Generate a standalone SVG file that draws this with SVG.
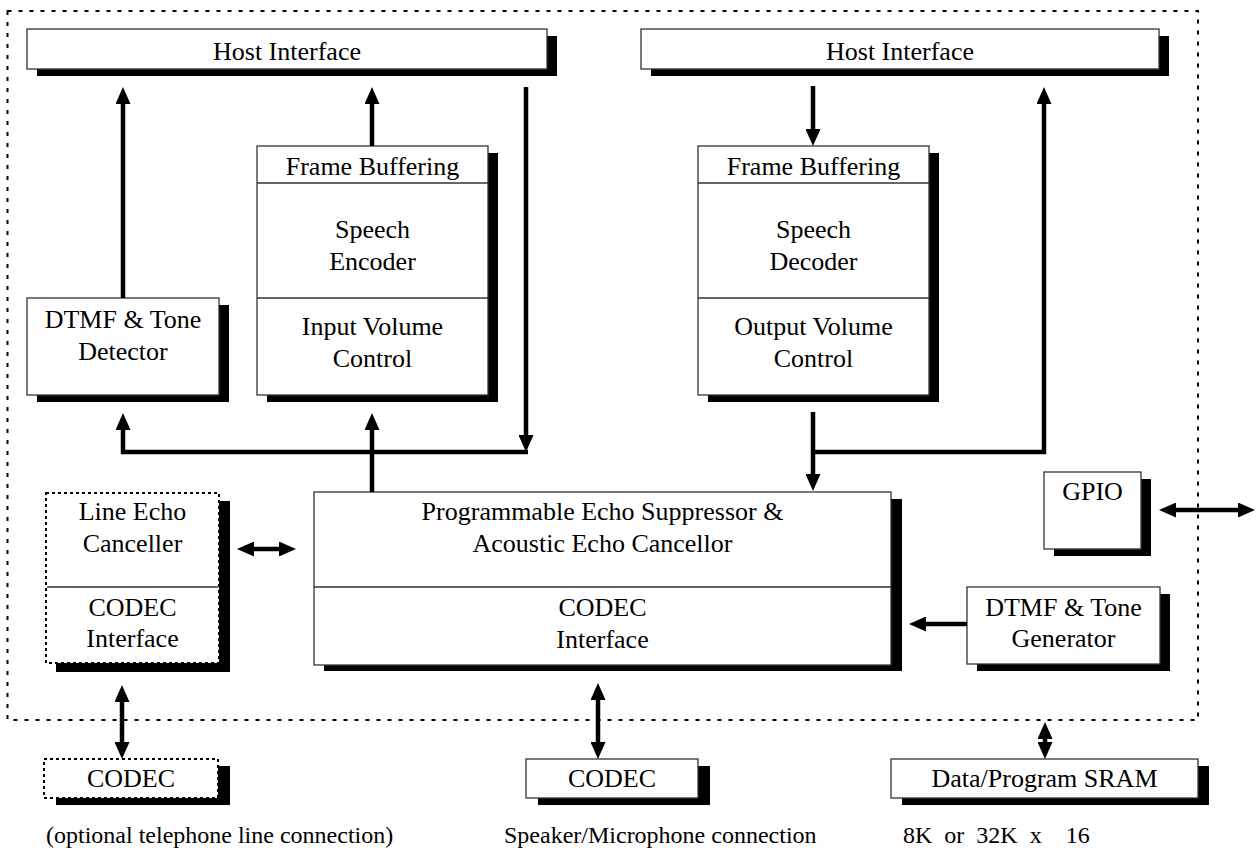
<svg xmlns="http://www.w3.org/2000/svg" width="1257" height="849" viewBox="0 0 1257 849">
  <defs>
    <marker id="ah" viewBox="0 0 17 15" markerWidth="17" markerHeight="15" markerUnits="userSpaceOnUse" refX="3" refY="7.5" orient="auto-start-reverse">
      <path d="M0,0 L17,7.5 L0,15 z" fill="#000"/>
    </marker>
    <style>
      .box { fill: #fff; stroke: #333; stroke-width: 1.3; }
      .dbox { fill: #fff; stroke: #000; stroke-width: 2; stroke-dasharray: 3 3; }
      .div { stroke: #333; stroke-width: 1.3; }
      .sh { fill: #000; }
      .t { font-family: "Liberation Serif", "Times New Roman", serif; font-size: 26px; fill: #000; text-anchor: middle; }
      .fn { font-family: "Liberation Serif", "Times New Roman", serif; font-size: 24px; fill: #000; white-space: pre; }
      .c { fill: none; stroke: #000; stroke-width: 4.5; }
      .frame { fill: none; stroke: #000; stroke-width: 2; stroke-dasharray: 4 7; }
    </style>
  </defs>
  <rect width="1257" height="849" fill="#fff"/>

  <!-- chip boundary -->
  <rect class="frame" x="7.5" y="11" width="1190.5" height="709"/>

  <!-- host interfaces -->
  <g id="host-if-left">
    <rect class="sh" x="37" y="36" width="520" height="40"/>
    <rect class="box" x="27" y="29" width="520" height="40"/>
    <text class="t" x="287" y="60">Host Interface</text>
  </g>
  <g id="host-if-right">
    <rect class="sh" x="651" y="36" width="518" height="40"/>
    <rect class="box" x="641" y="29" width="518" height="40"/>
    <text class="t" x="900" y="60">Host Interface</text>
  </g>

  <!-- encoder path -->
  <g id="encoder">
    <rect class="sh" x="267" y="153" width="231" height="249"/>
    <rect class="box" x="257" y="146" width="231" height="249"/>
    <line class="div" x1="257" y1="183" x2="488" y2="183"/>
    <line class="div" x1="257" y1="298" x2="488" y2="298"/>
    <text class="t" x="372.5" y="175">Frame Buffering</text>
    <text class="t" x="372.5" y="238">Speech</text>
    <text class="t" x="372.5" y="270">Encoder</text>
    <text class="t" x="372.5" y="335">Input Volume</text>
    <text class="t" x="372.5" y="367">Control</text>
  </g>

  <!-- decoder path -->
  <g id="decoder">
    <rect class="sh" x="708" y="153" width="231" height="249"/>
    <rect class="box" x="698" y="146" width="231" height="249"/>
    <line class="div" x1="698" y1="183" x2="929" y2="183"/>
    <line class="div" x1="698" y1="298" x2="929" y2="298"/>
    <text class="t" x="813.5" y="175">Frame Buffering</text>
    <text class="t" x="813.5" y="238">Speech</text>
    <text class="t" x="813.5" y="270">Decoder</text>
    <text class="t" x="813.5" y="335">Output Volume</text>
    <text class="t" x="813.5" y="367">Control</text>
  </g>

  <g id="tone-detector">
    <rect class="sh" x="37" y="305" width="192" height="97"/>
    <rect class="box" x="27" y="298" width="192" height="97"/>
    <text class="t" x="123" y="328">DTMF &amp; Tone</text>
    <text class="t" x="123" y="360">Detector</text>
  </g>

  <g id="line-echo">
    <rect class="sh" x="56" y="501" width="174" height="171"/>
    <rect class="dbox" x="46" y="493" width="173" height="170"/>
    <line class="div" x1="47" y1="587" x2="218" y2="587"/>
    <text class="t" x="132.5" y="520">Line Echo</text>
    <text class="t" x="132.5" y="552">Canceller</text>
    <text class="t" x="132.5" y="616">CODEC</text>
    <text class="t" x="132.5" y="647">Interface</text>
  </g>

  <g id="echo-suppressor">
    <rect class="sh" x="324" y="499" width="578" height="172"/>
    <rect class="box" x="314" y="492" width="577" height="173"/>
    <line class="div" x1="314" y1="587" x2="891" y2="587"/>
    <text class="t" x="602.5" y="520">Programmable Echo Suppressor &amp;</text>
    <text class="t" x="602.5" y="552">Acoustic Echo Cancellor</text>
    <text class="t" x="602.5" y="616">CODEC</text>
    <text class="t" x="602.5" y="648">Interface</text>
  </g>

  <g id="gpio">
    <rect class="sh" x="1054" y="479" width="97" height="77"/>
    <rect class="box" x="1044" y="472" width="97" height="77"/>
    <text class="t" x="1092.5" y="500">GPIO</text>
  </g>

  <g id="tone-generator">
    <rect class="sh" x="977" y="594" width="193" height="77"/>
    <rect class="box" x="967" y="587" width="193" height="77"/>
    <text class="t" x="1063.5" y="616">DTMF &amp; Tone</text>
    <text class="t" x="1063.5" y="647">Generator</text>
  </g>

  <!-- external parts -->
  <g id="codec-line">
    <rect class="sh" x="56" y="766" width="174" height="39"/>
    <rect class="dbox" x="44" y="759" width="174" height="39"/>
    <text class="t" x="131" y="787">CODEC</text>
  </g>
  <g id="codec-audio">
    <rect class="sh" x="538" y="766" width="172" height="39"/>
    <rect class="box" x="526" y="759" width="172" height="39"/>
    <text class="t" x="612" y="787">CODEC</text>
  </g>
  <g id="sram">
    <rect class="sh" x="902" y="766" width="307" height="39"/>
    <rect class="box" x="891" y="759" width="307" height="39"/>
    <text class="t" x="1044.5" y="787">Data/Program SRAM</text>
  </g>

  <g id="notes">
    <text class="fn" x="46" y="843">(optional telephone line connection)</text>
    <text class="fn" x="504" y="843">Speaker/Microphone connection</text>
    <text class="fn" x="903" y="843" word-spacing="6">8K or 32K x  16</text>
  </g>

  <!-- data paths -->
  <g id="connectors">
    <line class="c" x1="123" y1="298" x2="123" y2="101" marker-end="url(#ah)"/>
    <line class="c" x1="372" y1="146" x2="372" y2="101" marker-end="url(#ah)"/>
    <line class="c" x1="526" y1="87" x2="526" y2="438" marker-end="url(#ah)"/>
    <line class="c" x1="121" y1="452" x2="528" y2="452"/>
    <line class="c" x1="123" y1="454" x2="123" y2="427" marker-end="url(#ah)"/>
    <line class="c" x1="372" y1="492" x2="372" y2="427" marker-end="url(#ah)"/>
    <line class="c" x1="813" y1="86" x2="813" y2="132" marker-end="url(#ah)"/>
    <line class="c" x1="813" y1="412" x2="813" y2="477" marker-end="url(#ah)"/>
    <polyline class="c" points="813,452 1044,452 1044,101" marker-end="url(#ah)"/>
    <line class="c" x1="251" y1="549" x2="282" y2="549" marker-start="url(#ah)" marker-end="url(#ah)"/>
    <line class="c" x1="1173" y1="510" x2="1241" y2="510" marker-start="url(#ah)" marker-end="url(#ah)"/>
    <line class="c" x1="967" y1="624" x2="923" y2="624" marker-end="url(#ah)"/>
    <line class="c" x1="122" y1="699" x2="122" y2="745" marker-start="url(#ah)" marker-end="url(#ah)"/>
    <line class="c" x1="598" y1="697" x2="598" y2="745" marker-start="url(#ah)" marker-end="url(#ah)"/>
    <line class="c" x1="1045" y1="736" x2="1045" y2="745" marker-start="url(#ah)" marker-end="url(#ah)"/>
  </g>
</svg>
